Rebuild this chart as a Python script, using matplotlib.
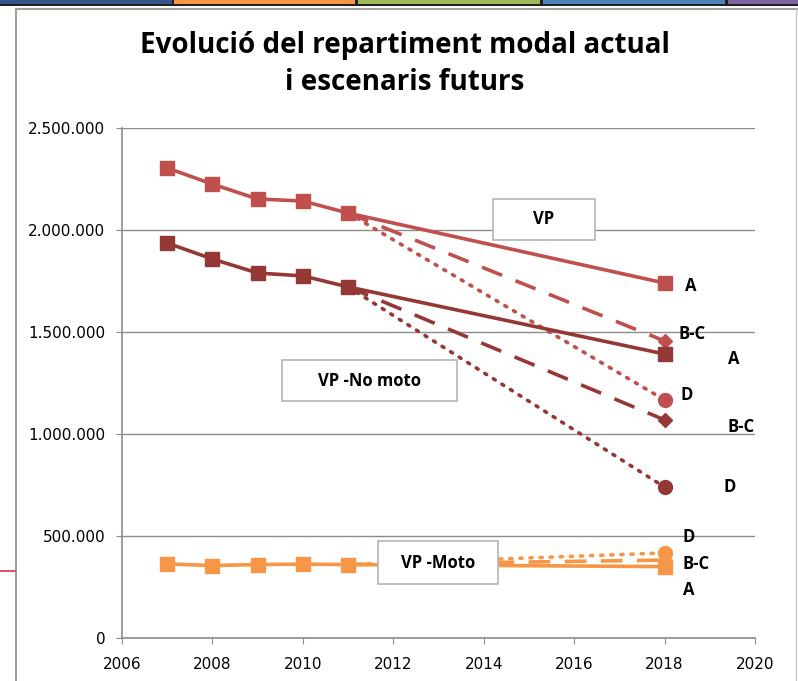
import matplotlib.pyplot as plt
from matplotlib.patches import Rectangle
from matplotlib.lines import Line2D
from matplotlib.ticker import FuncFormatter

years = [2007, 2008, 2009, 2010, 2011]
vp = [2304000, 2225000, 2152000, 2142000, 2083000]
vp_no_moto = [1936000, 1858000, 1789000, 1775000, 1721000]
vp_moto = [363000, 355000, 360000, 362000, 360000]

year_end = 2018
# scenarios at 2018: A, B-C, D
vp_end = {'A': 1740000, 'B-C': 1456000, 'D': 1167000}
no_moto_end = {'A': 1392000, 'B-C': 1069000, 'D': 740000}
moto_end = {'A': 350000, 'B-C': 382000, 'D': 417000}

c_vp = '#C0504D'
c_nomoto = '#953735'
c_moto = '#F79646'

W, H = 798, 681
fig = plt.figure(figsize=(W / 100, H / 100), dpi=100)

def fx(px):
    return px / W

def fy(py):
    return 1 - py / H

# top strip of coloured tabs, as in the original screenshot
strip = [(0, 172, '#35558A'), (174, 355, '#F79646'), (358, 540, '#9BBB59'),
         (543, 725, '#4F81BD'), (728, 798, '#8064A2')]
fig.add_artist(Rectangle((0, fy(6)), 1, 6 / H, transform=fig.transFigure,
                         color='#202020', lw=0))
for x0, x1, col in strip:
    fig.add_artist(Rectangle((fx(x0), fy(4)), (x1 - x0) / W, 4 / H,
                             transform=fig.transFigure, color=col, lw=0))
# chart frame
fig.add_artist(Line2D([fx(16), fx(16)], [0, fy(9)], transform=fig.transFigure,
                      color='#A0A0A0', lw=1.5))
fig.add_artist(Line2D([fx(16), 1], [fy(9), fy(9)], transform=fig.transFigure,
                      color='#A0A0A0', lw=1.5))
fig.add_artist(Line2D([fx(796), fx(796)], [0, fy(9)], transform=fig.transFigure,
                      color='#C8C8C8', lw=1))
fig.add_artist(Line2D([0, fx(15)], [fy(571), fy(571)], transform=fig.transFigure,
                      color='#E05070', lw=1.5))

ax = fig.add_axes([fx(122), 43 / H, 633 / W, 510 / H])

lw = 2.6
ms = 10
series = [(vp, vp_end, c_vp), (vp_no_moto, no_moto_end, c_nomoto), (vp_moto, moto_end, c_moto)]
for hist, end, col in series:
    ax.plot(years, hist, color=col, lw=lw, marker='s', ms=ms, zorder=3)
    last = hist[-1]
    ax.plot([years[-1], year_end], [last, end['D']], color=col, lw=lw, ls=(0, (0.6, 2.2)),
            dash_capstyle='round', zorder=2)
    ax.plot([year_end], [end['D']], color=col, marker='o', ms=ms, ls='none', zorder=3)
    ax.plot([years[-1], year_end], [last, end['B-C']], color=col, lw=lw, ls=(0, (6, 4)), zorder=2)
    ax.plot([year_end], [end['B-C']], color=col, marker='D', ms=ms * 0.75, ls='none', zorder=3)
    ax.plot([years[-1], year_end], [last, end['A']], color=col, lw=lw, zorder=2)
    ax.plot([year_end], [end['A']], color=col, marker='s', ms=ms, ls='none', zorder=4)

ax.set_xlim(2006, 2020)
ax.set_ylim(0, 2500000)
ax.set_xticks(range(2006, 2021, 2))
ax.set_yticks(range(0, 2500001, 500000))
ax.yaxis.set_major_formatter(FuncFormatter(lambda v, p: f'{int(v):,}'.replace(',', '.')))
ax.grid(axis='y', color='#8C8C8C', lw=1)
ax.set_axisbelow(True)
for s in ['top', 'right']:
    ax.spines[s].set_visible(False)
for s in ['left', 'bottom']:
    ax.spines[s].set_color('#8C8C8C')
    ax.spines[s].set_linewidth(1.2)
ax.tick_params(colors='#8C8C8C', labelcolor='black', labelsize=11, length=4)
ax.tick_params(axis='y', pad=8)
ax.tick_params(axis='x', pad=10)

lab = dict(fontsize=12, fontweight='bold', family='Open Sans', va='center', ha='left',
           clip_on=False)
ax.text(2018.45, 1725000, 'A', **lab)
ax.text(2018.3, 1490000, 'B-C', **lab)
ax.text(2019.4, 1370000, 'A', **lab)
ax.text(2018.35, 1190000, 'D', **lab)
ax.text(2019.4, 1035000, 'B-C', **lab)
ax.text(2019.3, 740000, 'D', **lab)
ax.text(2018.4, 495000, 'D', **lab)
ax.text(2018.4, 365000, 'B-C', **lab)
ax.text(2018.4, 235000, 'A', **lab)

# series name boxes (pixel extents from the reference)
boxes = [('VP', 493, 595, 199, 240), ('VP -No moto', 282, 457, 360, 401),
         ('VP -Moto', 378, 498, 541, 584)]
for name, x0, x1, y0, y1 in boxes:
    fig.add_artist(Rectangle((fx(x0), fy(y1)), (x1 - x0) / W, (y1 - y0) / H,
                             transform=fig.transFigure, fc='white', ec='#B4B4B4',
                             lw=1.2, zorder=5))
    fig.text(fx((x0 + x1) / 2), fy((y0 + y1) / 2), name, ha='center', va='center',
             fontsize=12, fontweight='bold', family='Open Sans', zorder=6)

fig.text(405 / W, fy(64), 'Evolució del repartiment modal actual\ni escenaris futurs',
         ha='center', va='center', fontsize=20, fontweight='bold', family='Open Sans',
         linespacing=1.35)

fig.savefig('out.png', dpi=100)
